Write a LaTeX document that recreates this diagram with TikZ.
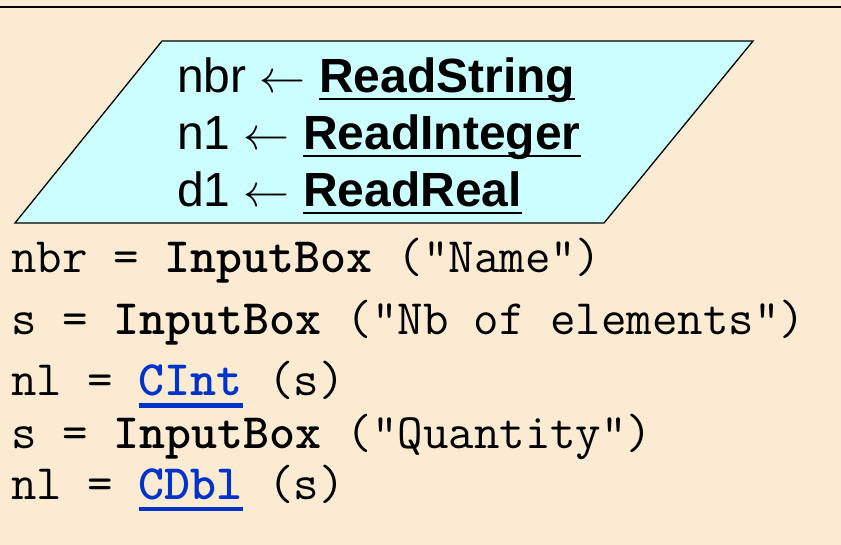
\documentclass[tikz,border=0pt]{standalone}
\usepackage{fontspec}
\setmainfont{Liberation Sans}

\definecolor{paper}{RGB}{252,235,211}
\definecolor{iofill}{RGB}{204,255,255}
\definecolor{fnblue}{RGB}{0,51,204}

% underlined bold keyword of the pseudo-code (black, thin rule)
\newsavebox\wordbox
\newcommand{\pseudoword}[1]{%
  \sbox\wordbox{\bfseries #1}%
  \rlap{\rule[-7pt]{\wd\wordbox}{2.4pt}}\usebox\wordbox}
% underlined VB conversion function (blue, thick rule)
\newcommand{\vbword}[1]{%
  \sbox\wordbox{\bfseries\color{fnblue}#1}%
  {\color{fnblue}\rlap{\rule[-12pt]{\wd\wordbox}{4pt}}}\usebox\wordbox}
% assignment arrow, about one em wide at 48pt
\newcommand{\getsarrow}{\resizebox{46pt}{!}{$\leftarrow$}}

\tikzset{
  pseudo/.style={anchor=base west, inner sep=0pt,
    font=\fontsize{48}{57}\selectfont},
  vbcode/.style={anchor=base west, inner sep=0pt,
    font=\ttfamily\fontsize{49.5}{56}\selectfont},
  iobox/.style={fill=iofill, draw=black, line width=1.3pt, line join=miter},
}

\begin{document}
\begin{tikzpicture}[x=1pt, y=1pt]
  % page and header rule
  \fill[paper] (0,0) rectangle (841,-545);
  \useasboundingbox (0,0) rectangle (841,-545);
  \draw[line width=1.5pt] (0,-7) -- (841,-7);

  % input/output parallelogram
  \coordinate (pTL) at (162,-41);
  \coordinate (pTR) at (753,-41);
  \coordinate (pBR) at (604,-223);
  \coordinate (pBL) at (15,-223);
  \draw[iobox] (pTL) -- (pTR) -- (pBR) -- (pBL) -- cycle;

  \node[pseudo] (readstr) at (177,-93)  {nbr \getsarrow{} \pseudoword{ReadString}};
  \node[pseudo] (readint) at (177,-150) {n1 \getsarrow{} \pseudoword{ReadInteger}};
  \node[pseudo] (readdbl) at (177,-207) {d1 \getsarrow{} \pseudoword{ReadReal}};

  % Visual Basic equivalent
  \node[vbcode] (vb1) at (11,-272.5) {nbr = \textbf{InputBox} ("Name")};
  \node[vbcode] (vb2) at (11,-335)   {s = \textbf{InputBox} ("Nb of elements")};
  \node[vbcode] (vb3) at (11,-395.5) {nl = \vbword{CInt} (s)};
  \node[vbcode] (vb4) at (11,-448)   {s = \textbf{InputBox} ("Quantity")};
  \node[vbcode] (vb5) at (11,-499)   {nl = \vbword{CDbl} (s)};
\end{tikzpicture}
\end{document}
